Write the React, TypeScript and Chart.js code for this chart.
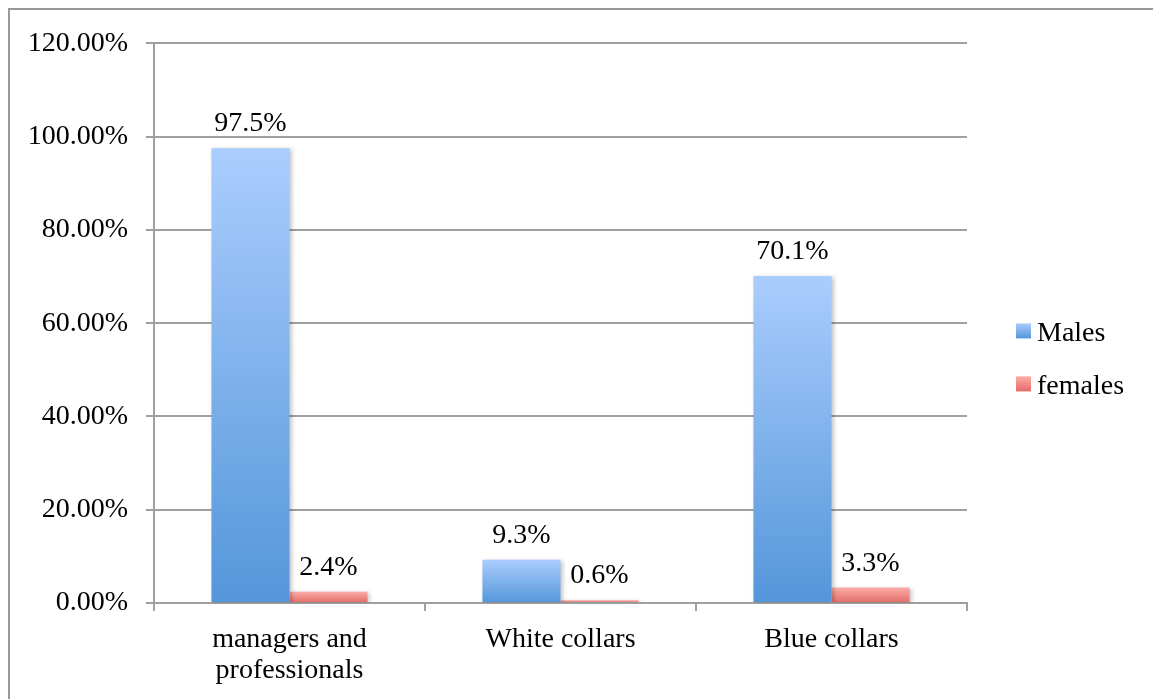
import React, { useEffect, useRef } from "react";
import { Chart, registerables } from "chart.js";

Chart.register(...registerables);

const categories: (string | string[])[] = [["managers and", "professionals"], "White collars", "Blue collars"];
const seriesNames = ["Males", "females"];
const malesValues = [97.5, 9.3, 70.1];
const femalesValues = [2.4, 0.6, 3.3];
const yTickValues = [0, 20, 40, 60, 80, 100, 120];

const FONT = "'Liberation Serif', 'Times New Roman', serif";
const FONT_SIZE = 28;
const GRID = "#a0a0a0";
const MALE_TOP = "#aacdfd";
const MALE_BOTTOM = "#5496da";
const FEMALE_TOP = "#fcaca7";
const FEMALE_BOTTOM = "#e36b66";
const seriesColors = [
  [MALE_TOP, MALE_BOTTOM],
  [FEMALE_TOP, FEMALE_BOTTOM],
];

function barGradient(top: string, bottom: string) {
  return (ctx: any) => {
    const chart = ctx.chart;
    const y = chart.scales && chart.scales.y;
    if (!y || ctx.type !== "data" || typeof ctx.raw !== "number") return bottom;
    const y0 = y.getPixelForValue(0);
    const y1 = y.getPixelForValue(ctx.raw);
    if (!isFinite(y0) || !isFinite(y1) || Math.abs(y0 - y1) < 0.5) return bottom;
    const g = chart.ctx.createLinearGradient(0, y1, 0, y0);
    g.addColorStop(0, top);
    g.addColorStop(1, bottom);
    return g;
  };
}

const barShadow = {
  id: "barShadow",
  beforeDatasetsDraw(chart: any) {
    const ctx = chart.ctx;
    ctx.save();
    ctx.shadowColor = "rgba(0,0,0,0.22)";
    ctx.shadowBlur = 4;
    ctx.shadowOffsetX = 2;
    ctx.shadowOffsetY = 1;
  },
  afterDatasetsDraw(chart: any) {
    chart.ctx.restore();
  },
};

const valueLabels = {
  id: "valueLabels",
  afterDatasetsDraw(chart: any) {
    const ctx = chart.ctx;
    ctx.save();
    ctx.font = `${FONT_SIZE}px ${FONT}`;
    ctx.fillStyle = "#000";
    ctx.textAlign = "center";
    ctx.textBaseline = "alphabetic";
    chart.data.datasets.forEach((ds: any, di: number) => {
      const meta = chart.getDatasetMeta(di);
      meta.data.forEach((el: any, i: number) => {
        const v = ds.data[i];
        ctx.fillText(v.toFixed(1) + "%", el.x, el.y - 17);
      });
    });
    ctx.restore();
  },
};

const sideLegend = {
  id: "sideLegend",
  afterDraw(chart: any) {
    const ctx = chart.ctx;
    const area = chart.chartArea;
    const x = area.right + 49;
    const size = 15;
    ctx.save();
    ctx.font = `${FONT_SIZE}px ${FONT}`;
    ctx.textAlign = "left";
    ctx.textBaseline = "alphabetic";
    chart.data.datasets.forEach((ds: any, i: number) => {
      const top = area.top + 280 + i * 53;
      const [c1, c2] = seriesColors[i];
      const g = ctx.createLinearGradient(0, top, 0, top + size);
      g.addColorStop(0, c1);
      g.addColorStop(1, c2);
      ctx.fillStyle = g;
      ctx.fillRect(x, top, size, size);
      ctx.fillStyle = "#000";
      ctx.fillText(ds.label, x + 21, top + 18);
    });
    ctx.restore();
  },
};

export default function App() {
  const ref = useRef<HTMLCanvasElement | null>(null);

  useEffect(() => {
    if (!ref.current) return;
    const font = { family: FONT, size: FONT_SIZE, lineHeight: 1.1 };
    const chart = new Chart(ref.current, {
      type: "bar",
      data: {
        labels: categories,
        datasets: [
          {
            label: seriesNames[0],
            data: malesValues,
            backgroundColor: barGradient(MALE_TOP, MALE_BOTTOM),
            categoryPercentage: 0.576,
            barPercentage: 1,
            borderWidth: 0,
          },
          {
            label: seriesNames[1],
            data: femalesValues,
            backgroundColor: barGradient(FEMALE_TOP, FEMALE_BOTTOM),
            categoryPercentage: 0.576,
            barPercentage: 1,
            borderWidth: 0,
          },
        ],
      },
      options: {
        animation: false,
        responsive: false,
        events: [],
        layout: { padding: { top: 33, right: 186, left: 0, bottom: 0 } },
        plugins: {
          legend: { display: false },
          tooltip: { enabled: false },
        },
        scales: {
          x: {
            grid: {
              display: true,
              drawOnChartArea: false,
              drawTicks: true,
              tickLength: 8,
              color: GRID,
              lineWidth: 2,
            },
            border: { display: true, color: GRID, width: 2 },
            ticks: {
              font,
              color: "#000",
              padding: 13,
              maxRotation: 0,
              autoSkip: false,
            },
            afterFit: (s: any) => {
              s.height = 96;
            },
          },
          y: {
            min: 0,
            max: 120,
            afterBuildTicks: (s: any) => {
              s.ticks = yTickValues.map((v) => ({ value: v }));
            },
            ticks: {
              font,
              color: "#000",
              padding: 18,
              callback: (v: any) => Number(v).toFixed(2) + "%",
            },
            grid: { color: GRID, lineWidth: 2, tickLength: 8 },
            border: { display: true, color: GRID, width: 2 },
            afterFit: (s: any) => {
              s.width = 144;
            },
          },
        },
      },
      plugins: [barShadow, valueLabels, sideLegend],
    });
    return () => chart.destroy();
  }, []);

  return (
    <div
      style={{
        position: "fixed",
        left: 8,
        top: 8,
        width: 1300,
        height: 800,
        boxSizing: "border-box",
        borderTop: "2px solid #9a9a9a",
        borderLeft: "2px solid #9a9a9a",
        overflow: "hidden",
      }}
    >
      <canvas
        ref={ref}
        width={1143}
        height={689}
        style={{ position: "absolute", left: 0, top: 0, display: "block" }}
      />
    </div>
  );
}
